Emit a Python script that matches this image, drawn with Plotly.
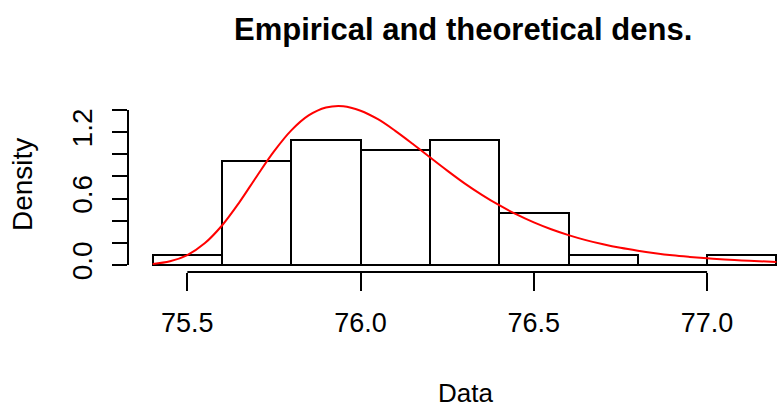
import plotly.graph_objects as go

# ---- data ----
bin_left = [75.4, 75.6, 75.8, 76.0, 76.2, 76.4, 76.6, 76.8, 77.0]
bin_width = 0.2
counts = [1, 10, 12, 11, 12, 5, 1, 0, 1]

curve_x = [75.40, 75.45, 75.50, 75.55, 75.60, 75.65, 75.70, 75.75, 75.80, 75.85,
           75.90, 75.95, 76.00, 76.05, 76.10, 76.15, 76.20, 76.25, 76.30, 76.35,
           76.40, 76.45, 76.50, 76.55, 76.60, 76.65, 76.70, 76.75, 76.80, 76.85,
           76.90, 76.95, 77.00, 77.05, 77.10, 77.15, 77.20]
curve_y = [0.010, 0.034, 0.090, 0.196, 0.357, 0.566, 0.800, 1.026, 1.216, 1.351,
           1.423, 1.435, 1.394, 1.317, 1.212, 1.095, 0.973, 0.853, 0.738, 0.634,
           0.540, 0.457, 0.385, 0.323, 0.270, 0.225, 0.187, 0.155, 0.129, 0.107,
           0.088, 0.073, 0.060, 0.050, 0.041, 0.034, 0.028]

x_tickvals = [75.5, 76.0, 76.5, 77.0]
x_ticktext = ["75.5", "76.0", "76.5", "77.0"]
y_tickvals = [0.0, 0.6, 1.2]
y_ticktext = ["0.0", "0.6", "1.2"]
y_axis_end = 1.4

title_text = "Empirical and theoretical dens."
xlab = "Data"
ylab = "Density"

n = sum(counts)
dens = [c / (n * bin_width) for c in counts]
centers = [b + bin_width / 2 for b in bin_left]

FONT = "Liberation Sans, Arial, sans-serif"

fig = go.Figure()
fig.add_trace(go.Bar(x=centers, y=dens, width=bin_width,
                     marker=dict(color="white", line=dict(color="black", width=2)),
                     showlegend=False, hoverinfo="skip"))
fig.add_trace(go.Scatter(x=curve_x, y=curve_y, mode="lines",
                         line=dict(color="red", width=2, shape="spline", smoothing=1),
                         showlegend=False, hoverinfo="skip"))

fig.update_layout(
    width=780, height=409,
    margin=dict(l=128, r=0, t=95, b=137),
    plot_bgcolor="white", paper_bgcolor="white",
    bargap=0,
    xaxis=dict(range=[75.3287, 77.2104], showgrid=False, zeroline=False, showline=False,
               tickvals=x_tickvals, ticktext=x_ticktext, ticks="outside", ticklen=18,
               tickwidth=2, tickcolor="black", ticklabelstandoff=9,
               tickfont=dict(family=FONT, size=27, color="black")),
    yaxis=dict(range=[-0.0632, 1.5357], showgrid=False, zeroline=False, showline=False,
               tickvals=y_tickvals, ticktext=y_ticktext, ticks="outside", ticklen=15,
               tickwidth=2, tickcolor="black", tickangle=-90, ticklabelstandoff=9,
               minor=dict(tick0=0, dtick=0.2, ticks="outside", ticklen=15, tickwidth=2,
                          tickcolor="black"),
               tickfont=dict(family=FONT, size=28, color="black")),
    shapes=[
        dict(type="line", xref="x", yref="paper", x0=x_tickvals[0], x1=x_tickvals[-1],
             y0=0, y1=0, line=dict(color="black", width=2)),
        dict(type="line", xref="paper", yref="y", x0=0, x1=0, y0=0, y1=y_axis_end,
             line=dict(color="black", width=2)),
    ],
    annotations=[
        dict(text="<b>" + title_text + "</b>", xref="paper", yref="paper",
             x=(463 - 128) / 652, y=(272 - 30) / 177, xanchor="center", yanchor="middle",
             showarrow=False, font=dict(family=FONT, size=31, color="black")),
        dict(text=xlab, xref="paper", yref="paper",
             x=(465 - 128) / 652, y=(272 - 393) / 177, xanchor="center", yanchor="middle",
             showarrow=False, font=dict(family=FONT, size=26, color="black")),
        dict(text=ylab, xref="paper", yref="paper", textangle=-90,
             x=(22 - 128) / 652, y=(272 - 185) / 177, xanchor="center", yanchor="middle",
             showarrow=False, font=dict(family=FONT, size=28, color="black")),
    ],
)

fig.write_html("out.html")
